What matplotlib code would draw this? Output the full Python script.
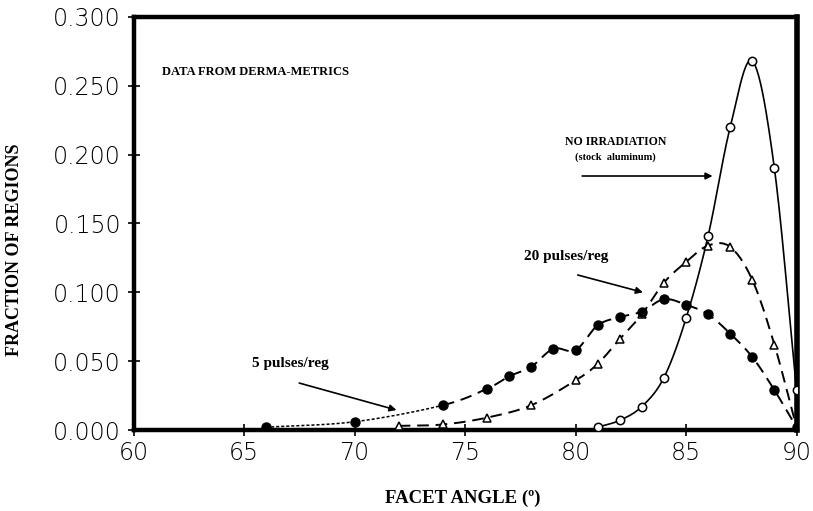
import numpy as np
import matplotlib
matplotlib.use("Agg")
import matplotlib.pyplot as plt

# ---- data ----
angle_none = [81, 82, 83, 84, 85, 86, 87, 88, 89, 90]
frac_none = [0.002, 0.007, 0.017, 0.038, 0.081, 0.141, 0.220, 0.268, 0.190, 0.029]

angle_20 = [72, 74, 76, 78, 80, 81, 82, 83, 84, 85, 86, 87, 88, 89, 90]
frac_20 = [0.003, 0.004, 0.009, 0.018, 0.036, 0.048, 0.066, 0.084, 0.107, 0.122, 0.134, 0.133, 0.109, 0.062, 0.002]

angle_5 = [66, 70, 74, 76, 77, 78, 79, 80, 81, 82, 83, 84, 85, 86, 87, 88, 89, 90]
frac_5 = [0.002, 0.006, 0.018, 0.030, 0.039, 0.046, 0.059, 0.058, 0.076, 0.082, 0.086, 0.095, 0.091, 0.084, 0.070, 0.053, 0.029, 0.002]

xticks = [60, 65, 70, 75, 80, 85, 90]
yticks = [0.000, 0.050, 0.100, 0.150, 0.200, 0.250, 0.300]
ytick_labels = ["0.000", "0.050", "0.100", "0.150", "0.200", "0.250", "0.300"]


def smooth(x, y, n=24):
    """Catmull-Rom curve through the points (drawing aid only)."""
    p = np.column_stack([x, y]).astype(float)
    p = np.vstack([2 * p[0] - p[1], p, 2 * p[-1] - p[-2]])
    out = []
    for i in range(1, len(p) - 2):
        p0, p1, p2, p3 = p[i - 1], p[i], p[i + 1], p[i + 2]
        t = np.linspace(0, 1, n, endpoint=False)[:, None]
        c = 0.5 * ((2 * p1) + (-p0 + p2) * t + (2 * p0 - 5 * p1 + 4 * p2 - p3) * t ** 2
                   + (-p0 + 3 * p1 - 3 * p2 + p3) * t ** 3)
        out.append(c)
    out.append(p[-2][None, :])
    c = np.vstack(out)
    return c[:, 0], np.clip(c[:, 1], 0, None)


fig = plt.figure(figsize=(8.13, 5.11), dpi=100)
ax = fig.add_axes([133.5 / 813, 81 / 511, 663 / 813, 413 / 511])

serif = "Liberation Serif"
sans = "DejaVu Sans"

# no irradiation: solid line, open circles
sx, sy = smooth(angle_none, frac_none)
ax.plot(sx, sy, color="black", lw=1.2, solid_capstyle="round")
ax.plot(angle_none, frac_none, ls="none", marker="o", ms=6, mfc="white", mec="black", mew=1.1, zorder=5)

# 20 pulses/reg: dashed line, open triangles
sx, sy = smooth(angle_20, frac_20)
ax.plot(sx, sy, color="black", lw=1.4, ls=(0, (6, 3.5)))
ax.plot(angle_20, frac_20, ls="none", marker="^", ms=6, mfc="white", mec="black", mew=1.1, zorder=5)

# 5 pulses/reg: dotted then dashed, filled circles
sx, sy = smooth(angle_5, frac_5)
cut = angle_5[2]
m1 = sx <= cut
m2 = sx >= cut
ax.plot(sx[m1], sy[m1], color="black", lw=1.1, ls=(0, (2, 1.3)))
ax.plot(sx[m2], sy[m2], color="black", lw=1.4, ls=(0, (6, 3.5)))
ax.plot(angle_5, frac_5, ls="none", marker="o", ms=6.5, mfc="black", mec="black", zorder=6)

ax.set_xlim(60, 90)
ax.set_ylim(0, 0.300)
ax.set_xticks(xticks)
ax.set_xticklabels([str(v) for v in xticks])
ax.set_yticks(yticks)
ax.set_yticklabels(ytick_labels)
ax.tick_params(axis="both", direction="inout", length=8, width=1.2, labelsize=17,
               colors="black")
ax.tick_params(axis="x", pad=4)
ax.tick_params(axis="y", pad=5)
for lab in ax.get_xticklabels() + ax.get_yticklabels():
    lab.set_family(sans)
    lab.set_fontweight("light")

for s in ["left", "bottom", "top"]:
    ax.spines[s].set_linewidth(3.2)
ax.spines["right"].set_linewidth(4.0)

# annotations
bold = dict(family=serif, fontweight="bold", color="black")
ax.text(61.3, 0.260, "DATA FROM DERMA-METRICS", fontsize=9, ha="left", va="center", **bold)
ax.text(81.8, 0.209, "NO IRRADIATION", fontsize=8.5, ha="center", va="center", **bold)
ax.text(81.8, 0.198, "(stock  aluminum)", fontsize=7.5, ha="center", va="center", **bold)
ax.text(79.6, 0.126, "20 pulses/reg", fontsize=11, ha="center", va="center", **bold)
ax.text(67.1, 0.048, "5 pulses/reg", fontsize=11, ha="center", va="center", **bold)

arrow = dict(arrowstyle="-|>", lw=1.2, color="black", mutation_scale=10, shrinkA=0, shrinkB=0)
ax.annotate("", xy=(86.2, 0.1845), xytext=(80.3, 0.1845), arrowprops=arrow)
ax.annotate("", xy=(83.05, 0.100), xytext=(80.1, 0.1126), arrowprops=arrow)
ax.annotate("", xy=(71.9, 0.0145), xytext=(67.5, 0.0341), arrowprops=arrow)

fig.text(15 / 813, 1 - 250 / 511, "FRACTION OF REGIONS", rotation=90, fontsize=13,
         ha="center", va="center", **bold)
fig.text(463 / 813, 1 - 498 / 511, "FACET ANGLE (\u00ba)", fontsize=13.5,
         ha="center", va="center", **bold)

fig.savefig("out.png", dpi=100, facecolor="white")
